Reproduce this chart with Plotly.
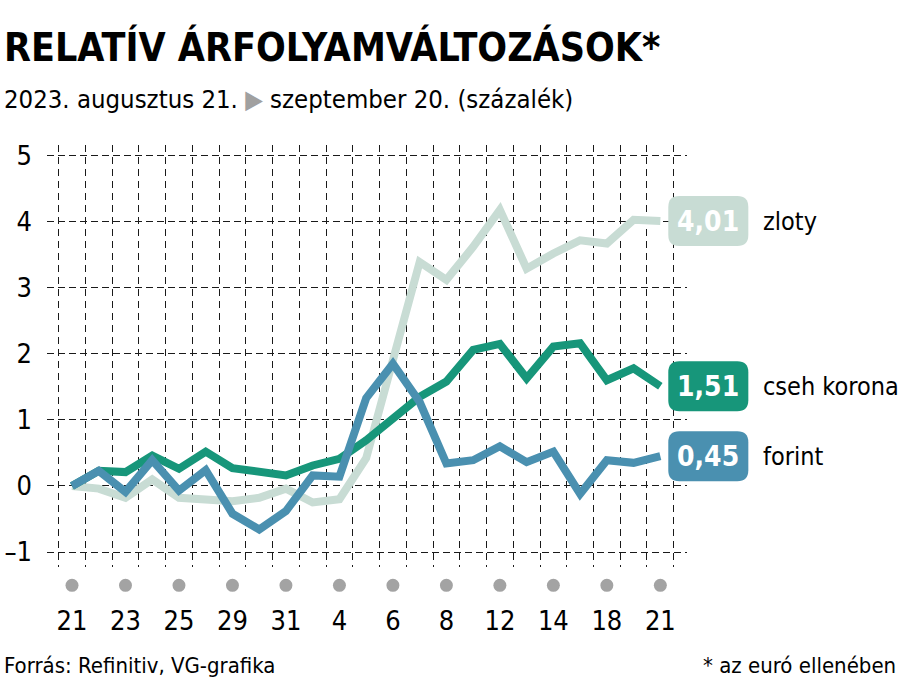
import plotly.graph_objects as go

# ---- data ----
tick_labels = ["21", "23", "25", "29", "31", "4", "6", "8", "12", "14", "18", "21"]
n_points = 23
zloty = [0, -0.04, -0.18, 0.10, -0.18, -0.19, -0.23, -0.18, -0.04, -0.25, -0.20,
         0.42, 1.90, 3.39, 3.12, 3.62, 4.18, 3.29, 3.52, 3.72, 3.67, 4.03, 4.01]
korona = [0, 0.23, 0.21, 0.46, 0.26, 0.52, 0.27, 0.23, 0.16, 0.31, 0.41,
          0.69, 1.02, 1.35, 1.58, 2.06, 2.15, 1.63, 2.11, 2.16, 1.60, 1.78, 1.51]
forint = [0, 0.23, -0.09, 0.39, -0.07, 0.24, -0.42, -0.66, -0.38, 0.16, 0.14,
          1.33, 1.85, 1.27, 0.34, 0.39, 0.60, 0.36, 0.52, -0.12, 0.39, 0.35, 0.45]
series_names = ["zloty", "cseh korona", "forint"]
end_labels = ["4,01", "1,51", "0,45"]
y_ticks = [-1, 0, 1, 2, 3, 4, 5]
y_ticktext = ["–1", "0", "1", "2", "3", "4", "5"]

colors = ["#c8dcd4", "#17967a", "#4a90b0"]
FONT = "DejaVu Sans Condensed, Liberation Sans Narrow, sans-serif"

x_idx = list(range(n_points))
label_pos = list(range(0, n_points, 2))

# plot-area pixel geometry
L, R, T, B = 47, 686.7, 145, 566.7
W, H = R - L, B - T
def pxx(px):
    return (px - L) / W
def pxy(py):
    return (B - py) / H

fig = go.Figure()
for vals, col in zip([zloty, korona, forint], colors):
    fig.add_trace(go.Scatter(x=x_idx, y=vals, mode="lines",
                             line=dict(color=col, width=8),
                             hoverinfo="skip", showlegend=False))

shapes = []
annotations = []

# grey dots under labelled ticks
for p in label_pos:
    shapes.append(dict(type="circle", xref="x", yref="paper",
                       xsizemode="pixel", ysizemode="pixel",
                       xanchor=p, yanchor=pxy(585),
                       x0=-6.5, x1=6.5, y0=-6.5, y1=6.5,
                       fillcolor="#a3a3a3", line=dict(width=0)))

x0, x1 = pxx(668), pxx(748)
rx = 11 / W
h, ry = 25, 11
for vals, col, txt, name in zip([zloty, korona, forint], colors, end_labels, series_names):
    yv = vals[-1]
    path = (f"M {x0+rx},{-h} L {x1-rx},{-h} Q {x1},{-h} {x1},{-h+ry} "
            f"L {x1},{h-ry} Q {x1},{h} {x1-rx},{h} L {x0+rx},{h} "
            f"Q {x0},{h} {x0},{h-ry} L {x0},{-h+ry} Q {x0},{-h} {x0+rx},{-h} Z")
    shapes.append(dict(type="path", xref="paper", yref="y", ysizemode="pixel",
                       yanchor=yv, path=path, fillcolor=col, line=dict(width=0),
                       layer="above"))
    annotations.append(dict(x=pxx(708), y=yv, xref="paper", yref="y", text=f"<b>{txt}</b>",
                            showarrow=False, xanchor="center", yanchor="middle",
                            font=dict(family=FONT, size=28, color="white")))
    annotations.append(dict(x=pxx(761), y=yv, xref="paper", yref="y", text=name,
                            showarrow=False, xanchor="left", yanchor="middle",
                            font=dict(family=FONT, size=25, color="black")))

annotations += [
    dict(x=pxx(2), y=pxy(47), xref="paper", yref="paper", showarrow=False,
         xanchor="left", yanchor="middle",
         text="<b>RELATÍV ÁRFOLYAMVÁLTOZÁSOK*</b>",
         font=dict(family=FONT, size=39, color="black")),
    dict(x=pxx(2), y=pxy(99), xref="paper", yref="paper", showarrow=False,
         xanchor="left", yanchor="middle",
         text="2023. augusztus 21. <span style='color:#a0a0a0'>▶</span> szeptember 20. (százalék)",
         font=dict(family=FONT, size=25.5, color="black")),
    dict(x=pxx(2), y=pxy(665), xref="paper", yref="paper", showarrow=False,
         xanchor="left", yanchor="middle",
         text="Forrás: Refinitiv, VG-grafika",
         font=dict(family=FONT, size=22, color="black")),
    dict(x=pxx(898), y=pxy(665), xref="paper", yref="paper", showarrow=False,
         xanchor="right", yanchor="middle",
         text="* az euró ellenében",
         font=dict(family=FONT, size=22, color="black")),
]

grid_col = "#1a1a1a"
fig.update_layout(
    width=900, height=695,
    margin=dict(l=L, r=900 - R, t=T, b=695 - B, pad=0),
    paper_bgcolor="white", plot_bgcolor="white",
    showlegend=False,
    shapes=shapes, annotations=annotations,
    xaxis=dict(range=[-0.935, 22.997], tickmode="array", tickvals=label_pos,
               ticktext=tick_labels, showgrid=False, zeroline=False, showline=False,
               ticks="", ticklabelstandoff=35, automargin=False,
               tickfont=dict(family=FONT, size=27, color="black"),
               minor=dict(tickmode="array", tickvals=[i - 0.5 for i in range(n_points + 1)],
                          showgrid=True, gridcolor=grid_col, gridwidth=1.3,
                          griddash="7px,5px", ticks=""),
               fixedrange=True),
    yaxis=dict(range=[-1.227, 5.162], tickmode="array", tickvals=y_ticks,
               ticktext=y_ticktext, showgrid=True, gridcolor=grid_col, gridwidth=1.3,
               griddash="7px,4px", zeroline=False, showline=False, ticks="",
               ticklabelstandoff=14, automargin=False,
               tickfont=dict(family=FONT, size=27, color="black"),
               fixedrange=True),
)

fig.write_html("out.html", config={"displayModeBar": False},
               post_script="document.body.style.margin='0';document.body.style.overflow='hidden';")
